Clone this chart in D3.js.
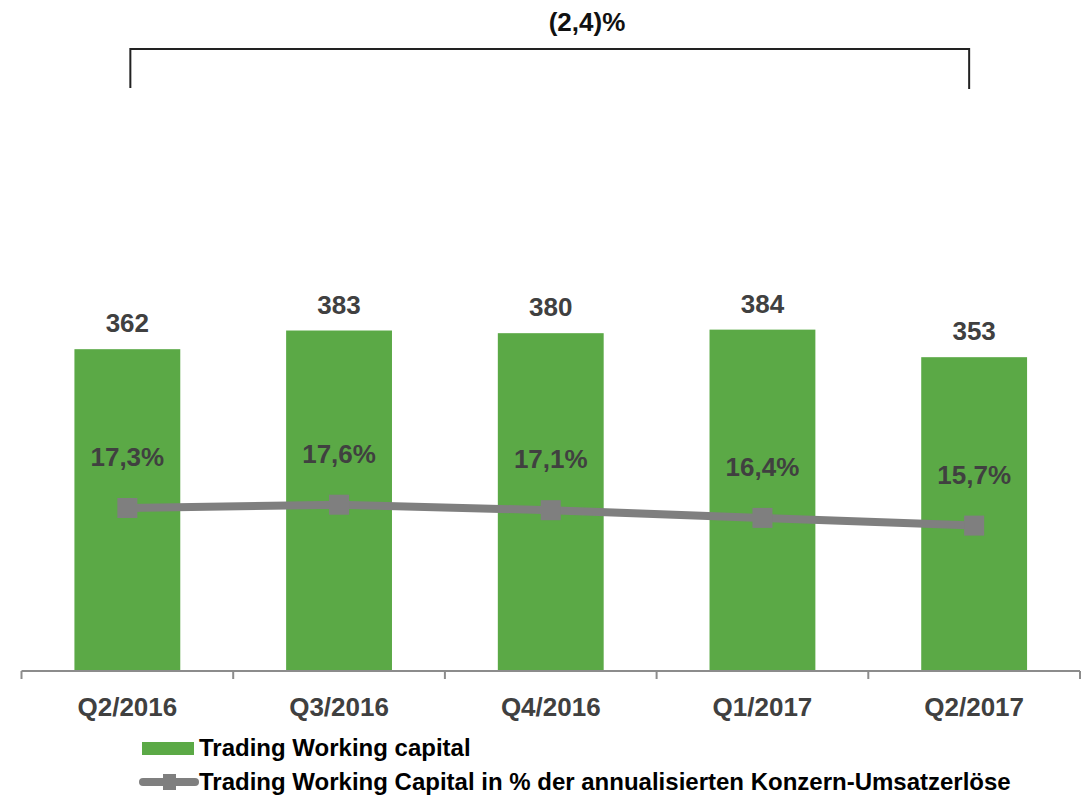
<!DOCTYPE html>
<html>
<head>
<meta charset="utf-8">
<title>Trading Working Capital</title>
<style>
body {margin: 0; background: #fff;}
text {font-family: "Liberation Sans", Arial, sans-serif; font-weight: bold;}
</style>
</head>
<body>
<div id="chart"></div>
<script src="https://cdn.jsdelivr.net/npm/d3@7"></script>
<script>
var quarters = ['Q2/2016', 'Q3/2016', 'Q4/2016', 'Q1/2017', 'Q2/2017'];
var capital = [362, 383, 380, 384, 353];
var percent = [17.3, 17.6, 17.1, 16.4, 15.7];
var changeLabel = '(2,4)%';
var legendNames = ['Trading Working capital', 'Trading Working Capital in % der annualisierten Konzern-Umsatzerlöse'];

(function(d3) {
	var width = 1090, height = 796;
	var green = '#5BA946', grey = '#7F7F7F', dark = '#404040';
	var fmt = function(v) { return v.toFixed(1).replace('.', ',') + '%'; };

	var svg = d3.select('#chart').append('svg')
		.attr('width', width)
		.attr('height', height);

	var x = d3.scaleBand()
		.domain(quarters)
		.range([21.5, 1080])
		.paddingInner(0.5)
		.paddingOuter(0.25);
	// band used for the axis ticks (no padding)
	var xAxisScale = d3.scaleBand().domain(quarters).range([21.5, 1080]);

	var y = d3.scaleLinear().domain([0, 400]).range([671, 315.4]);
	var y2 = d3.scaleLinear().domain([15, 18]).range([533.3, 500.3]);

	// bars
	svg.selectAll('rect.bar')
		.data(capital)
		.enter().append('rect')
		.attr('class', 'bar')
		.attr('x', function(d, i) { return x(quarters[i]); })
		.attr('y', function(d) { return y(d); })
		.attr('width', x.bandwidth())
		.attr('height', function(d) { return y(0) - y(d); })
		.attr('fill', green);

	svg.selectAll('text.val')
		.data(capital)
		.enter().append('text')
		.attr('class', 'val')
		.attr('x', function(d, i) { return x(quarters[i]) + x.bandwidth() / 2; })
		.attr('y', function(d) { return y(d) - 17; })
		.attr('text-anchor', 'middle')
		.style('font-size', '26px')
		.style('fill', dark)
		.text(function(d) { return d; });

	// x axis
	var axis = d3.axisBottom(xAxisScale).tickSize(0).tickPadding(0);
	var ax = svg.append('g').attr('transform', 'translate(0,671)').call(axis);
	ax.select('.domain').remove();
	ax.selectAll('.tick text').remove();
	ax.append('line')
		.attr('x1', 21.5).attr('x2', 1080)
		.attr('stroke', '#8C8C8C').attr('stroke-width', 2);
	var bounds = quarters.map(function(q) { return xAxisScale(q); }).concat([1080]);
	ax.selectAll('line.tk')
		.data(bounds)
		.enter().append('line')
		.attr('class', 'tk')
		.attr('x1', function(d) { return d; }).attr('x2', function(d) { return d; })
		.attr('y1', 0).attr('y2', 8)
		.attr('stroke', '#8C8C8C').attr('stroke-width', 2);
	ax.selectAll('text.cat')
		.data(quarters)
		.enter().append('text')
		.attr('class', 'cat')
		.attr('x', function(d) { return xAxisScale(d) + xAxisScale.bandwidth() / 2; })
		.attr('y', 45)
		.attr('text-anchor', 'middle')
		.style('font-size', '26px')
		.style('fill', dark)
		.text(function(d) { return d; });

	// percent line
	var cx = function(d, i) { return x(quarters[i]) + x.bandwidth() / 2; };
	var line = d3.line().x(cx).y(function(d) { return y2(d); });
	svg.append('path')
		.datum(percent)
		.attr('d', line)
		.attr('fill', 'none')
		.attr('stroke', grey)
		.attr('stroke-width', 8);
	svg.selectAll('rect.mk')
		.data(percent)
		.enter().append('rect')
		.attr('class', 'mk')
		.attr('x', function(d, i) { return cx(d, i) - 10; })
		.attr('y', function(d) { return y2(d) - 10; })
		.attr('width', 20).attr('height', 20)
		.attr('fill', grey);
	svg.selectAll('text.pct')
		.data(percent)
		.enter().append('text')
		.attr('class', 'pct')
		.attr('x', cx)
		.attr('y', function(d) { return y2(d) - 42; })
		.attr('text-anchor', 'middle')
		.style('font-size', '26px')
		.style('fill', dark)
		.text(fmt);

	// bracket with change
	var bx1 = cx(0, 0) + 3, bx2 = cx(0, quarters.length - 1) - 5;
	svg.append('path')
		.attr('d', 'M' + bx1 + ',88V49H' + bx2 + 'V89')
		.attr('fill', 'none')
		.attr('stroke', '#222')
		.attr('stroke-width', 2);
	svg.append('text')
		.attr('x', 587).attr('y', 31)
		.attr('text-anchor', 'middle')
		.style('font-size', '26px')
		.style('fill', '#111')
		.text(changeLabel);

	// legend
	var legend = svg.append('g').attr('transform', 'translate(142,0)');
	legend.append('rect')
		.attr('x', 0).attr('y', 742)
		.attr('width', 52).attr('height', 13)
		.attr('fill', green);
	legend.append('line')
		.attr('x1', 1).attr('x2', 53)
		.attr('y1', 782).attr('y2', 782)
		.attr('stroke', grey).attr('stroke-width', 8)
		.attr('stroke-linecap', 'round');
	legend.append('rect')
		.attr('x', 21).attr('y', 774)
		.attr('width', 13).attr('height', 16)
		.attr('fill', grey);
	legend.selectAll('text.lg')
		.data(legendNames)
		.enter().append('text')
		.attr('class', 'lg')
		.attr('x', 57)
		.attr('y', function(d, i) { return 756 + i * 34; })
		.style('font-size', '24px')
		.style('fill', '#000')
		.text(function(d) { return d; });
})(window.d3);
</script>
</body>
</html>
